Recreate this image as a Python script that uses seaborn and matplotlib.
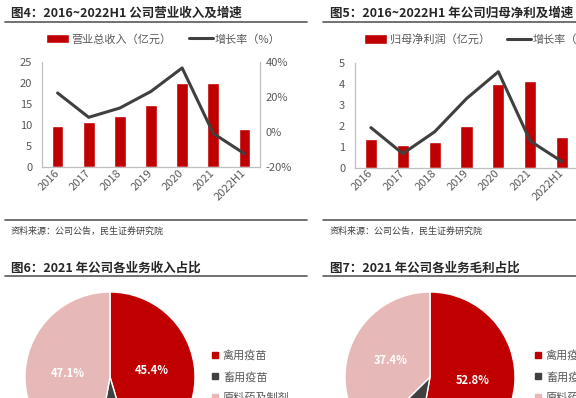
import matplotlib
matplotlib.use("Agg")
import matplotlib.pyplot as plt
import seaborn as sns
import pandas as pd
import numpy as np
from matplotlib.patches import Patch
from matplotlib.lines import Line2D

years = ['2016', '2017', '2018', '2019', '2020', '2021', '2022H1']
revenue = [9.8, 10.6, 12.1, 14.8, 20.1, 20.1, 9.1]          # 亿元
revenue_growth = [22.3, 8.4, 13.7, 23.2, 36.6, -0.8, -12.4]  # %
profit = [1.35, 1.08, 1.22, 1.97, 4.0, 4.14, 1.43]          # 亿元
profit_growth = [45, -17, 35, 114, 178, 13, -36]             # %

segments = ['禽用疫苗', '畜用疫苗', '原料药及制剂']
revenue_share = [45.4, 7.5, 47.1]
margin_share = [52.8, 9.8, 37.4]

RED = '#C00000'
DARK = '#404040'
PINK = '#E6B9B8'
GREY_TXT = '#595959'
SPINE = '#BFBFBF'

W, H = 576, 398

sns.set_theme(style='white')
plt.rcParams['font.family'] = ['Noto Sans CJK SC', 'DejaVu Sans']
plt.rcParams['axes.unicode_minus'] = False

fig = plt.figure(figsize=(W / 100, H / 100), dpi=100)


def box(x0, y0, x1, y1):
    return [x0 / W, 1 - y1 / H, (x1 - x0) / W, (y1 - y0) / H]


def hline(y, x0, x1, color='#595959', lw=1.2):
    fig.add_artist(Line2D([x0 / W, x1 / W], [1 - y / H, 1 - y / H],
                          transform=fig.transFigure, color=color, lw=lw))


def ftext(x, y, s, **kw):
    fig.text(x / W, 1 - y / H, s, va='center', ha='left', **kw)


def style_axes(ax, twin, show_right):
    ax.spines['top'].set_visible(False)
    twin.spines['top'].set_visible(False)
    for sp in ['left', 'bottom', 'right']:
        for a in (ax, twin):
            a.spines[sp].set_color(SPINE)
            a.spines[sp].set_linewidth(0.8)
    ax.tick_params(axis='both', length=0, labelsize=8, labelcolor=GREY_TXT)
    ax.tick_params(axis='y', pad=7)
    ax.tick_params(axis='x', pad=3)
    twin.tick_params(axis='y', length=0, labelsize=8, labelcolor=GREY_TXT,
                     pad=4, labelright=show_right)
    ax.set_xlabel('')
    ax.set_ylabel('')
    twin.set_ylabel('')
    for lab in ax.get_xticklabels():
        lab.set_rotation(45)
        lab.set_ha('right')
        lab.set_va('center')
        lab.set_rotation_mode('anchor')


def bar_line(box_px, values, growth, ymax, ystep, glim, gstep, show_right=True):
    df = pd.DataFrame({'year': years, 'value': values, 'growth': growth})
    ax = fig.add_axes(box(*box_px))
    sns.barplot(data=df, x='year', y='value', color=RED, saturation=1,
                width=0.38, ax=ax)
    ax.set_ylim(0, ymax)
    yt = np.arange(0, ymax + 0.01, ystep)
    ax.set_yticks(yt)
    ax.set_yticklabels([f'{v:g}' for v in yt])
    tw = ax.twinx()
    sns.lineplot(x=np.arange(len(years)), y=df['growth'], color=DARK,
                 lw=2.2, ax=tw)
    tw.set_ylim(*glim)
    gt = np.arange(glim[0], glim[1] + 0.01, gstep)
    tw.set_yticks(gt)
    tw.set_yticklabels([f'{v:.0f}%' for v in gt])
    ax.set_xlim(-0.5, len(years) - 0.5)
    style_axes(ax, tw, show_right)
    handles = [Patch(facecolor=RED), Line2D([], [], color=DARK, lw=2.2)]
    return ax, handles


LEG = dict(loc='upper left', ncol=2, frameon=False, fontsize=8,
           handlelength=2.1, handleheight=0.9, handletextpad=0.2,
           columnspacing=1.6, borderpad=0, borderaxespad=0, labelcolor=GREY_TXT)

# Fig 4
ax4, h4 = bar_line((42, 62, 260, 167), revenue, revenue_growth, 25, 5,
                   (-20, 40), 20)
fig.legend(h4, ['营业总收入（亿元）', '增长率（%）'],
           bbox_to_anchor=(46 / W, 1 - 34 / H), **LEG)

# Fig 5 (its right axis lies past the page edge)
ax5, h5 = bar_line((355, 62.5, 578, 167.5), profit, profit_growth, 5, 1,
                   (-50, 200), 50, show_right=False)
fig.legend(h5, ['归母净利润（亿元）', '增长率（%）'],
           bbox_to_anchor=(364 / W, 1 - 34 / H), **LEG)


def pie(box_px, shares, legend_xy):
    ax = fig.add_axes(box(*box_px))
    wedges, _, autotexts = ax.pie(
        shares, colors=[RED, DARK, PINK], startangle=90, counterclock=False,
        autopct='%.1f%%', pctdistance=0.5,
        wedgeprops=dict(edgecolor='white', linewidth=1),
        textprops=dict(color='white', fontsize=8, fontweight='bold'))
    # the small slice's label sits below the page edge in the source
    autotexts[1].set_visible(False)
    ax.set_xlim(-1, 1)
    ax.set_ylim(-1, 1)
    ax.set_aspect('auto')
    handles = [Line2D([], [], marker='s', ls='', color=c, markersize=4)
               for c in [RED, DARK, PINK]]
    fig.legend(handles, segments, loc='upper left',
               bbox_to_anchor=(legend_xy[0] / W, 1 - legend_xy[1] / H),
               frameon=False, fontsize=8, handlelength=0.6, handletextpad=0.4,
               labelspacing=0.95, borderpad=0, borderaxespad=0,
               labelcolor=GREY_TXT)
    return ax


pie((25, 292, 195, 462), revenue_share, (212, 350))
pie((345, 292, 515, 462), margin_share, (535, 350))

# headers, rules and sources
TITLE = dict(fontsize=9, fontweight='bold', color='#262626')
ftext(11, 13, '图4：2016~2022H1 公司营业收入及增速', **TITLE)
ftext(330, 13, '图5：2016~2022H1 年公司归母净利及增速', **TITLE)
ftext(11, 268, '图6：2021 年公司各业务收入占比', **TITLE)
ftext(330, 268, '图7：2021 年公司各业务毛利占比', **TITLE)

for y in (22, 220, 276):
    hline(y, 5, 307)
    hline(y, 323, 576)

SRC = dict(fontsize=6.5, color='#404040')
ftext(11, 231, '资料来源：公司公告，民生证券研究院', **SRC)
ftext(330, 231, '资料来源：公司公告，民生证券研究院', **SRC)

fig.savefig('out.png', dpi=100)
